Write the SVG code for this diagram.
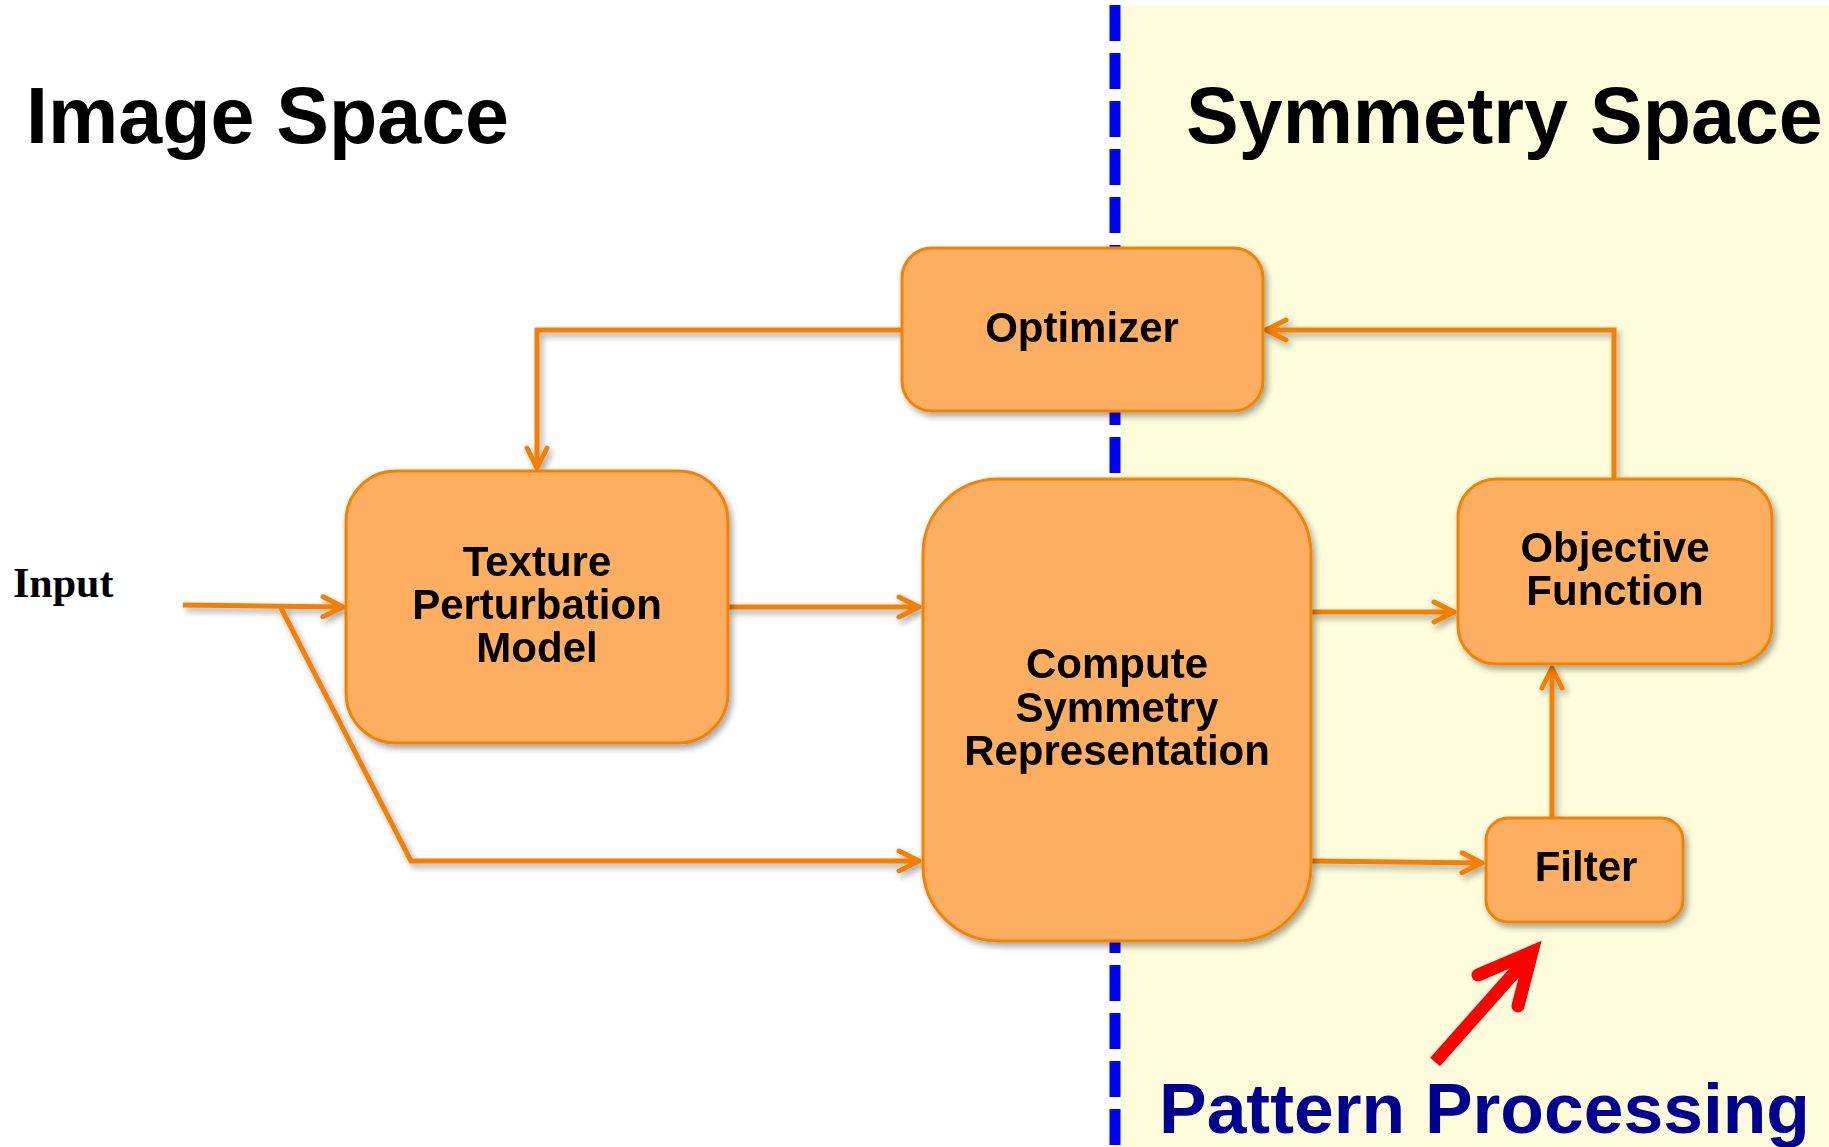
<svg xmlns="http://www.w3.org/2000/svg" width="1829" height="1147" viewBox="0 0 1829 1147">
<defs>
<filter id="sh" x="-10%" y="-10%" width="130%" height="130%">
<feDropShadow dx="3" dy="4" stdDeviation="3" flood-color="#000" flood-opacity="0.35"/>
</filter>
<marker id="ah" viewBox="0 0 30 30" refX="24" refY="15" markerWidth="30" markerHeight="30" markerUnits="userSpaceOnUse" orient="auto">
<path d="M4 5 L24 15 L4 25" fill="none" stroke="#F57F00" stroke-width="5" stroke-linecap="round" stroke-linejoin="round"/>
</marker>
<style>
.box{fill:#FDAE60;stroke:#F58100;stroke-width:3}
.lbl{font-family:"Liberation Sans",Arial,sans-serif;font-weight:bold;font-size:42px;fill:#000;text-anchor:middle}
.title{font-family:"Liberation Sans",Arial,sans-serif;font-weight:bold;font-size:79px;fill:#000}
.con{fill:none;stroke:#F57F00;stroke-width:5;stroke-linejoin:miter}
.arr{marker-end:url(#ah)}
</style>
</defs>
<rect x="0" y="0" width="1829" height="1147" fill="#FFFFFF"/>
<rect x="1121" y="5" width="708" height="1142" fill="#FDFDDC"/>
<line x1="1115" y1="5" x2="1115" y2="1147" stroke="#0000FF" stroke-width="11" stroke-dasharray="36 12"/>
<text class="title" x="26" y="143">Image Space</text>
<text class="title" x="1186" y="143">Symmetry Space</text>
<text x="13" y="597" font-family="'Liberation Serif','Times New Roman',serif" font-weight="bold" font-size="42" fill="#000">Input</text>
<g id="connectors" filter="url(#sh)">
<path class="con arr" d="M183 605 L343 607"/>
<path class="con arr" d="M280 606 L411 861 L919 861"/>
<path class="con arr" d="M728 607 L919 607"/>
<path class="con arr" d="M902 330 L537 330 L537 468"/>
<path class="con arr" d="M1311 612 L1454 612"/>
<path class="con arr" d="M1311 861 L1482 863"/>
<path class="con arr" d="M1552 818 L1552 668"/>
<path class="con arr" d="M1614 479 L1614 330 L1266 330"/>
</g>
<g id="optimizer" filter="url(#sh)">
<rect class="box" x="902" y="248" width="361" height="163" rx="30"/>
<text class="lbl" x="1082" y="342">Optimizer</text>
</g>
<g id="texture" filter="url(#sh)">
<rect class="box" x="346" y="471" width="382" height="272" rx="50"/>
<text class="lbl" x="537" y="576">Texture</text>
<text class="lbl" x="537" y="619">Perturbation</text>
<text class="lbl" x="537" y="662">Model</text>
</g>
<g id="compute" filter="url(#sh)">
<rect class="box" x="923" y="479" width="388" height="462" rx="75"/>
<text class="lbl" x="1117" y="678">Compute</text>
<text class="lbl" x="1117" y="722">Symmetry</text>
<text class="lbl" x="1117" y="765">Representation</text>
</g>
<g id="objective" filter="url(#sh)">
<rect class="box" x="1458" y="479" width="314" height="185" rx="38"/>
<text class="lbl" x="1615" y="562">Objective</text>
<text class="lbl" x="1615" y="605">Function</text>
</g>
<g id="filter" filter="url(#sh)">
<rect class="box" x="1486" y="818" width="197" height="104" rx="22"/>
<text class="lbl" x="1586" y="881">Filter</text>
</g>
<g id="pointer">
<line x1="1435" y1="1062" x2="1530" y2="955" stroke="#FF0000" stroke-width="13"/>
<path d="M1478 975 L1532 952 L1518 1006" fill="none" stroke="#FF0000" stroke-width="13" stroke-linecap="round" stroke-linejoin="miter"/>
</g>
<text x="1159" y="1133" font-family="'Liberation Sans',Arial,sans-serif" font-weight="bold" font-size="71" fill="#000091" textLength="651" lengthAdjust="spacingAndGlyphs">Pattern Processing</text>
</svg>
